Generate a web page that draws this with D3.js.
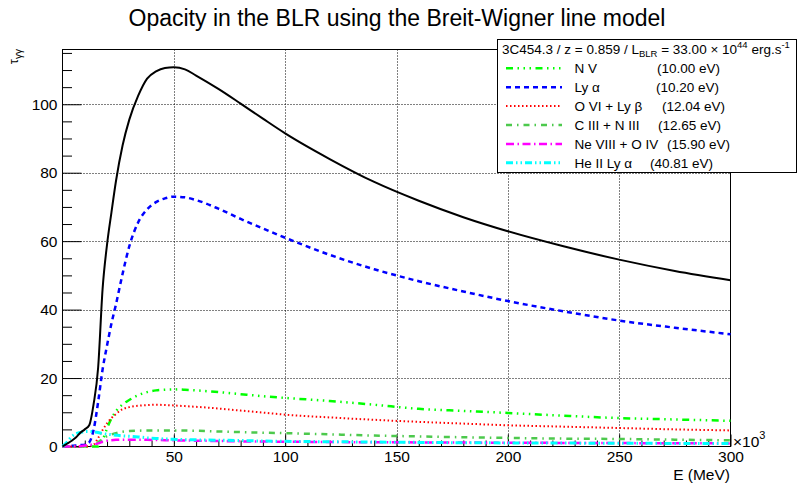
<!DOCTYPE html>
<html>
<head>
<meta charset="utf-8">
<script src="https://cdn.jsdelivr.net/npm/d3@7"></script>
<style>
  body { margin: 0; background: #fff; }
  text { font-family: "Liberation Sans", Arial, Helvetica, sans-serif; }
</style>
</head>
<body>
<svg id="chart" width="797" height="488"></svg>
<script>
// Photon energy grid (units of 10^3 MeV)
const energy = [0, 2, 4, 6, 8, 10, 12, 14, 16, 18, 20, 22, 24, 27, 30, 34, 38, 42, 46, 50,
                55, 60, 70, 80, 90, 100, 120, 140, 160, 180, 200, 225, 250, 275, 300];

// Total opacity
const tauTotal = [0, 0.8, 1.6, 2.6, 4.0, 5.0, 6.2, 12.5, 23, 46, 59, 68.5, 77.5, 88, 95.5, 102.5, 107.5, 109.6, 110.6, 110.8,
                  110.2, 108.4, 104.5, 100.2, 95.8, 91.5, 84, 77.3, 71.8, 67, 62.9, 58.5, 54.6, 51.3, 48.6];
// Individual lines
const tauNV = [0, 0, 0, 0, 0, 0, 0, 0, 0, 1.8, 5.3, 8.2, 10.3, 12.3, 13.6, 15.0, 15.9, 16.4, 16.6, 16.7,
               16.6, 16.4, 15.9, 15.3, 14.7, 14.2, 13.3, 12.2, 11.0, 10.4, 9.8, 9.0, 8.3, 7.9, 7.5];
const tauLya = [0, 0.1, 0.2, 0.3, 0.4, 0.5, 1.2, 5, 13, 22.5, 29.5, 36, 41.5, 50.5, 58.5, 65.5, 69.3, 71.4, 72.5, 73,
                72.8, 72.0, 69.5, 66.5, 63.7, 61, 56, 51.8, 48.3, 45.3, 42.5, 39.5, 36.8, 34.7, 32.8];
const tauOVI = [0, 0, 0, 0, 0, 0, 0, 0.5, 2.5, 4.8, 6.8, 8.3, 9.5, 10.9, 11.5, 11.9, 12.1, 12.2, 12.1, 12.0,
                11.8, 11.6, 11.1, 10.5, 9.9, 9.3, 8.5, 7.8, 7.2, 6.7, 6.2, 5.8, 5.4, 5.0, 4.7];
const tauCIII = [0, 0, 0, 0, 0, 0, 0, 0.5, 1.2, 2.2, 3.0, 3.5, 3.9, 4.3, 4.5, 4.6, 4.7, 4.7, 4.7, 4.7,
                 4.65, 4.6, 4.4, 4.2, 4.05, 3.9, 3.55, 3.2, 2.95, 2.7, 2.5, 2.3, 2.2, 2.0, 1.8];
const tauNeVIII = [0, 0, 0, 0, 0.1, 0.3, 0.5, 0.6, 0.9, 1.4, 1.7, 1.85, 1.95, 2.0, 2.0, 2.0, 1.95, 1.9, 1.85, 1.8,
                   1.75, 1.7, 1.6, 1.5, 1.45, 1.4, 1.3, 1.25, 1.2, 1.15, 1.1, 1.05, 1.0, 0.95, 0.9];
const tauHeII = [0, 1.2, 2.8, 3.7, 4.1, 4.4, 4.4, 4.3, 4.1, 3.8, 3.6, 3.45, 3.3, 3.1, 3.0, 2.8, 2.55, 2.35, 2.2, 2.1,
                 2.0, 1.95, 1.85, 1.75, 1.6, 1.5, 1.4, 1.3, 1.2, 1.1, 1.05, 1.0, 0.95, 0.9, 0.85];

const lineNames = ["N V", "Ly \u03b1", "O VI + Ly \u03b2", "C III + N III", "Ne VIII + O IV", "He II Ly \u03b1"];
const lineEnergies = ["(10.00 eV)", "(10.20 eV)", "(12.04 eV)", "(12.65 eV)", "(15.90 eV)", "(40.81 eV)"];
const xTickLabels = [50, 100, 150, 200, 250, 300];
const yTickLabels = [0, 20, 40, 60, 80, 100];

// Drawing styles for each line
const lineStyles = [
  { color: "#00ff00", dash: "7,4.5,1.5,4.5,1.5,4.5,1.5,4.5", width: 2.5, energyX: 657 },
  { color: "#0000ff", dash: "5,4", width: 2.5, energyX: 656 },
  { color: "#ff0000", dash: "1.5,2.5", width: 2, energyX: 662 },
  { color: "#4dc94d", dash: "6,5,1.5,5", width: 2.5, energyX: 658 },
  { color: "#ff00ff", dash: "8,3.5,1.5,3.5", width: 2.5, energyX: 667 },
  { color: "#00ffff", dash: "7,3,1.5,3,1.5,3", width: 3, energyX: 650 }
];
const lineSeries = [tauNV, tauLya, tauOVI, tauCIII, tauNeVIII, tauHeII];

const svg = d3.select("#chart");
const W = 797, H = 488;
svg.append("rect").attr("width", W).attr("height", H).attr("fill", "#fff");

const pLeft = 62.5, pRight = 730.5, pTop = 49.5, pBottom = 446.5;
const x = d3.scaleLinear().domain([0, 300]).range([pLeft, pRight]);
const y = d3.scaleLinear().domain([0, 116]).range([pBottom, pTop]);

// Title
svg.append("text").attr("x", 397).attr("y", 26).attr("text-anchor", "middle")
  .attr("font-size", 23).text("Opacity in the BLR using the Breit-Wigner line model");

// Grid
const grid = svg.append("g").attr("stroke", "#000").attr("stroke-width", 1).attr("stroke-dasharray", "1,2");
grid.selectAll("line.gx").data([50, 100, 150, 200, 250]).join("line")
  .attr("x1", d => Math.round(x(d)) + 0.5).attr("x2", d => Math.round(x(d)) + 0.5)
  .attr("y1", pTop).attr("y2", pBottom);
grid.selectAll("line.gy").data([20, 40, 60, 80, 100]).join("line")
  .attr("y1", d => Math.round(y(d)) + 0.5).attr("y2", d => Math.round(y(d)) + 0.5)
  .attr("x1", pLeft).attr("x2", pRight);

// Frame
svg.append("rect").attr("x", pLeft).attr("y", pTop).attr("width", pRight - pLeft).attr("height", pBottom - pTop)
  .attr("fill", "none").attr("stroke", "#000").attr("stroke-width", 1);

// Y axis (ticks pointing inward)
const yMajor = svg.append("g").attr("transform", `translate(${pLeft},0)`)
  .call(d3.axisLeft(y).tickValues(yTickLabels).tickSize(-19).tickPadding(5).tickFormat(d3.format("d")));
const yMinor = svg.append("g").attr("transform", `translate(${pLeft},0)`)
  .call(d3.axisLeft(y).tickValues(d3.range(0, 116, 5).filter(v => v % 20 !== 0)).tickSize(-9.5).tickFormat(""));
// X axis
const xMajor = svg.append("g").attr("transform", `translate(0,${pBottom})`)
  .call(d3.axisBottom(x).tickValues(xTickLabels).tickSize(-12).tickPadding(4).tickFormat(d3.format("d")));
const xMinor = svg.append("g").attr("transform", `translate(0,${pBottom})`)
  .call(d3.axisBottom(x).tickValues(d3.range(10, 300, 10).filter(v => v % 50 !== 0)).tickSize(-6).tickFormat(""));
[yMajor, yMinor, xMajor, xMinor].forEach(g => {
  g.select(".domain").remove();
  g.selectAll("line").attr("stroke", "#000").attr("stroke-width", 1);
  g.selectAll("text").attr("font-size", 15.5).attr("fill", "#000")
    .attr("font-family", "'Liberation Sans', Arial, Helvetica, sans-serif");
});

// Axis titles
svg.append("text").attr("x", 730).attr("y", 480).attr("text-anchor", "end").attr("font-size", 15.5).text("E (MeV)");
const mult = svg.append("text").attr("x", 733).attr("y", 447).attr("font-size", 15.5);
mult.append("tspan").text("\u00d710");
mult.append("tspan").attr("dy", -8).attr("font-size", 11).text("3");

const ytitle = svg.append("text").attr("transform", "translate(18,49) rotate(-90)")
  .attr("text-anchor", "end").attr("font-size", 13);
ytitle.append("tspan").text("\u03c4");
ytitle.append("tspan").attr("dy", 3.5).attr("font-size", 10).text("\u03b3\u03b3");

// Curves
const line = d3.line().x((d, i) => x(energy[i])).y(d => y(d)).curve(d3.curveMonotoneX);
const curves = svg.append("g").attr("fill", "none");
lineSeries.forEach((s, k) => {
  curves.append("path").attr("d", line(s))
    .attr("stroke", lineStyles[k].color).attr("stroke-width", lineStyles[k].width)
    .attr("stroke-dasharray", lineStyles[k].dash);
});
curves.append("path").attr("d", line(tauTotal)).attr("stroke", "#000").attr("stroke-width", 2);

// Legend
const lg = svg.append("g");
lg.append("rect").attr("x", 497.5).attr("y", 39.5).attr("width", 299).attr("height", 133)
  .attr("fill", "#fff").attr("stroke", "#000").attr("stroke-width", 1);
const hdr = lg.append("text").attr("x", 502).attr("y", 53.5).attr("font-size", 13.5);
hdr.append("tspan").text("3C454.3 / z = 0.859 / L");
hdr.append("tspan").attr("dy", 3.5).attr("font-size", 9.5).text("BLR");
hdr.append("tspan").attr("dy", -3.5).text(" = 33.00 \u00d7 10");
hdr.append("tspan").attr("dy", -6).attr("font-size", 9.5).text("44");
hdr.append("tspan").attr("dy", 6).text(" erg.s");
hdr.append("tspan").attr("dy", -6).attr("font-size", 9.5).text("-1");

lineNames.forEach((name, k) => {
  const cy = 68.3 + k * 18.9;
  lg.append("line").attr("x1", 506).attr("x2", 562).attr("y1", cy).attr("y2", cy)
    .attr("stroke", lineStyles[k].color).attr("stroke-width", lineStyles[k].width)
    .attr("stroke-dasharray", lineStyles[k].dash);
  lg.append("text").attr("x", 574.5).attr("y", cy + 4.8).attr("font-size", 13.5).text(name);
  lg.append("text").attr("x", lineStyles[k].energyX).attr("y", cy + 4.8).attr("font-size", 13.5).text(lineEnergies[k]);
});
</script>
</body>
</html>
